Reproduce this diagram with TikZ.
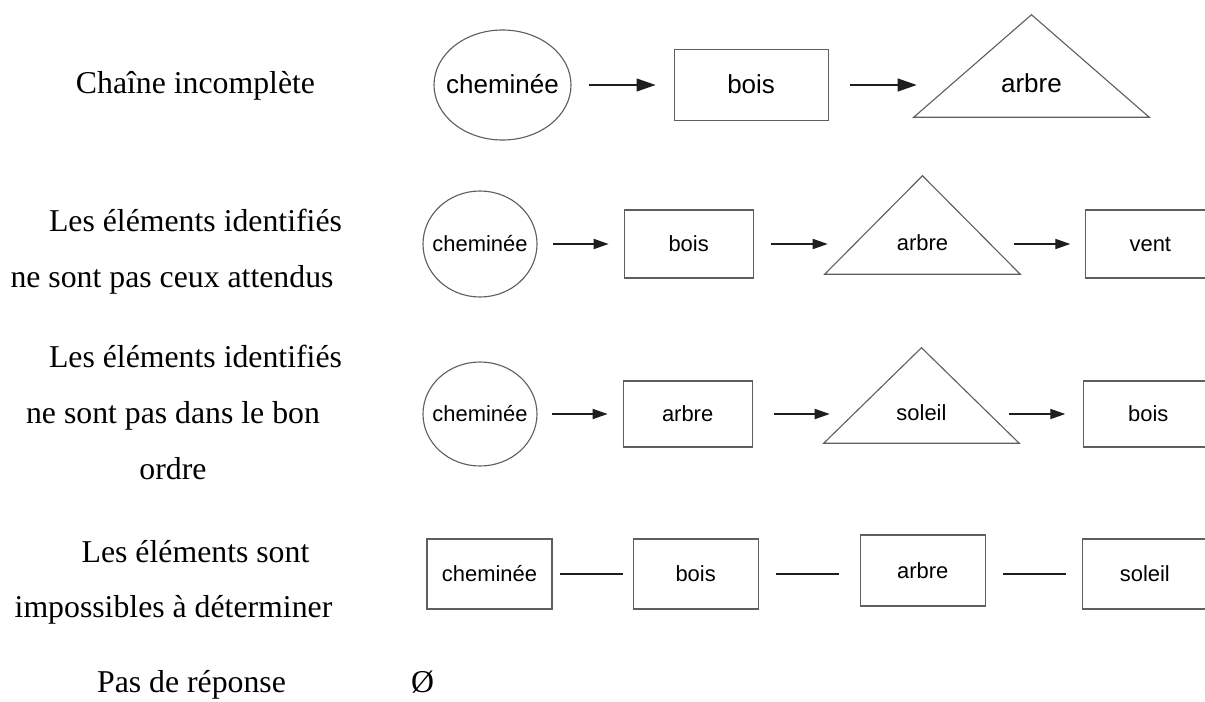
\documentclass[tikz,border=0pt]{standalone}
\usepackage{fontspec}
\setmainfont{Liberation Serif}
\setsansfont{Liberation Sans}
\usepackage{tikz}
\usetikzlibrary{shapes.geometric,arrows.meta,positioning,calc}
\definecolor{shapegray}{RGB}{95,95,95}
\definecolor{arrowgray}{RGB}{30,30,30}

\begin{document}
\begin{tikzpicture}[
    catlabel/.style={anchor=base, inner sep=0pt, font=\fontsize{22.6}{28}\selectfont},
    bigsans/.style={font=\sffamily\fontsize{18.5}{18.5}\selectfont, text height=14.4pt, text depth=3pt},
    smallsans/.style={font=\sffamily\fontsize{15.6}{15.6}\selectfont, text height=13pt, text depth=2pt},
    elemoval/.style={ellipse, draw=shapegray, line width=0.8pt, inner ysep=0pt, inner xsep=-1cm, #1},
    elembox/.style={rectangle, draw=shapegray, line width=0.8pt, inner sep=0pt, #1},
    elemtri/.style={inner sep=0pt, #1},
    flow/.style={draw=arrowgray, line width=0.9pt, -{Triangle[length=#1, width=0.68*#1]}},
    flow/.default=0.375cm,
    link/.style={draw=arrowgray, line width=0.9pt}
]
    \useasboundingbox (0,0) rectangle (30.125,-17.55);
    \clip (0,0) rectangle (30.125,-17.55);

    % categories
    \node[catlabel] (cat1) at (4.8875,-2.325) {Chaîne incomplète};
    \node[catlabel] (cat2a) at (4.8875,-5.775) {Les éléments identifiés};
    \node[catlabel] (cat2b) at (4.3,-7.175) {ne sont pas ceux attendus};
    \node[catlabel] (cat3a) at (4.8875,-9.175) {Les éléments identifiés};
    \node[catlabel] (cat3b) at (4.325,-10.575) {ne sont pas dans le bon};
    \node[catlabel] (cat3c) at (4.325,-11.975) {ordre};
    \node[catlabel] (cat4a) at (4.8875,-14.05) {Les éléments sont};
    \node[catlabel] (cat4b) at (4.3375,-15.425) {impossibles à déterminer};
    \node[catlabel] (cat5) at (4.7875,-17.3) {Pas de réponse};
    \node[catlabel] (none) at (10.5625,-17.3) {Ø};

    % chaine incomplete
    \node[elemoval=bigsans, minimum width=3.425cm, minimum height=2.75cm] (ell1) at (12.5625,-2.125) {cheminée};
    \node[elembox=bigsans, minimum width=3.85cm, minimum height=1.775cm, right=2.55cm of ell1] (bois1) {bois};
    \node[elemtri=bigsans, text height=13.3pt, text depth=2.5pt, minimum width=5.875cm, minimum height=1.6cm, right=2.125cm of bois1] (tri1) {arbre};

    % elements pas attendus
    \node[elemoval=smallsans, minimum width=2.85cm, minimum height=2.65cm] (ell2) at (12.0,-6.1) {cheminée};
    \node[elembox=smallsans, minimum width=3.225cm, minimum height=1.7cm, right=2.15cm of ell2] (bois2) {bois};
    \node[elemtri=smallsans, text height=11.3pt, text depth=2.1pt, minimum width=4.875cm, minimum height=1.5cm, right=1.775cm of bois2] (tri2) {arbre};
    \node[elembox=smallsans, minimum width=3.225cm, minimum height=1.7cm, right=1.625cm of tri2] (vent2) {vent};

    % mauvais ordre
    \node[elemoval=smallsans, minimum width=2.85cm, minimum height=2.6cm] (ell3) at (12.0,-10.35) {cheminée};
    \node[elembox=smallsans, minimum width=3.225cm, minimum height=1.65cm, right=2.125cm of ell3] (arbre3) {arbre};
    \node[elemtri=smallsans, text height=11.3pt, text depth=2.1pt, minimum width=4.875cm, minimum height=1.45cm, right=1.775cm of arbre3] (tri3) {soleil};
    \node[elembox=smallsans, minimum width=3.225cm, minimum height=1.65cm, right=1.6cm of tri3] (bois3) {bois};

    % indetermines
    \node[elembox=smallsans, minimum width=3.125cm, minimum height=1.75cm] (box4a) at (12.2375,-14.35) {cheminée};
    \node[elembox=smallsans, minimum width=3.125cm, minimum height=1.75cm, right=2cm of box4a] (box4b) {bois};
    \node[elembox=smallsans, minimum width=3.125cm, minimum height=1.775cm, right=2.525cm of box4b, yshift=0.0875cm] (box4c) {arbre};
    \node[elembox=smallsans, minimum width=3.125cm, minimum height=1.75cm, right=2.4cm of box4c, yshift=-0.0875cm] (box4d) {soleil};

    % triangles
    \foreach \t/\h in {tri1/0.95, tri2/0.95, tri3/0.925}
        \draw[shapegray, line width=0.8pt] (\t.south west) -- ([yshift=\h cm]\t.north) -- (\t.south east) -- cycle;

    \draw[flow=0.475cm, shorten <=0.425cm, shorten >=0.45cm] (ell1) -- (bois1);
    \draw[flow=0.475cm, shorten <=0.525cm, shorten >=-0.075cm] (bois1) -- (tri1);

    \draw[flow, shorten <=0.375cm, shorten >=0.375cm] (ell2) -- (bois2);
    \draw[flow, shorten <=0.425cm, shorten >=-0.075cm] (bois2) -- (tri2);
    \draw[flow, shorten <=-0.15cm, shorten >=0.375cm] (tri2) -- (vent2);

    \draw[flow, shorten <=0.35cm, shorten >=0.375cm] (ell3) -- (arbre3);
    \draw[flow, shorten <=0.525cm, shorten >=-0.15cm] (arbre3) -- (tri3);
    \draw[flow, shorten <=-0.25cm, shorten >=0.45cm] (tri3) -- (bois3);

    \draw[link, shorten <=0.175cm, shorten >=0.25cm] (box4a) -- (box4b);
    \draw[link, shorten <=0.425cm, shorten >=0.525cm] (box4b.east) -- (box4b.east -| box4c.west);
    \draw[link, shorten <=0.425cm, shorten >=0.4cm] (box4d.west -| box4c.east) -- (box4d.west);
\end{tikzpicture}
\end{document}
